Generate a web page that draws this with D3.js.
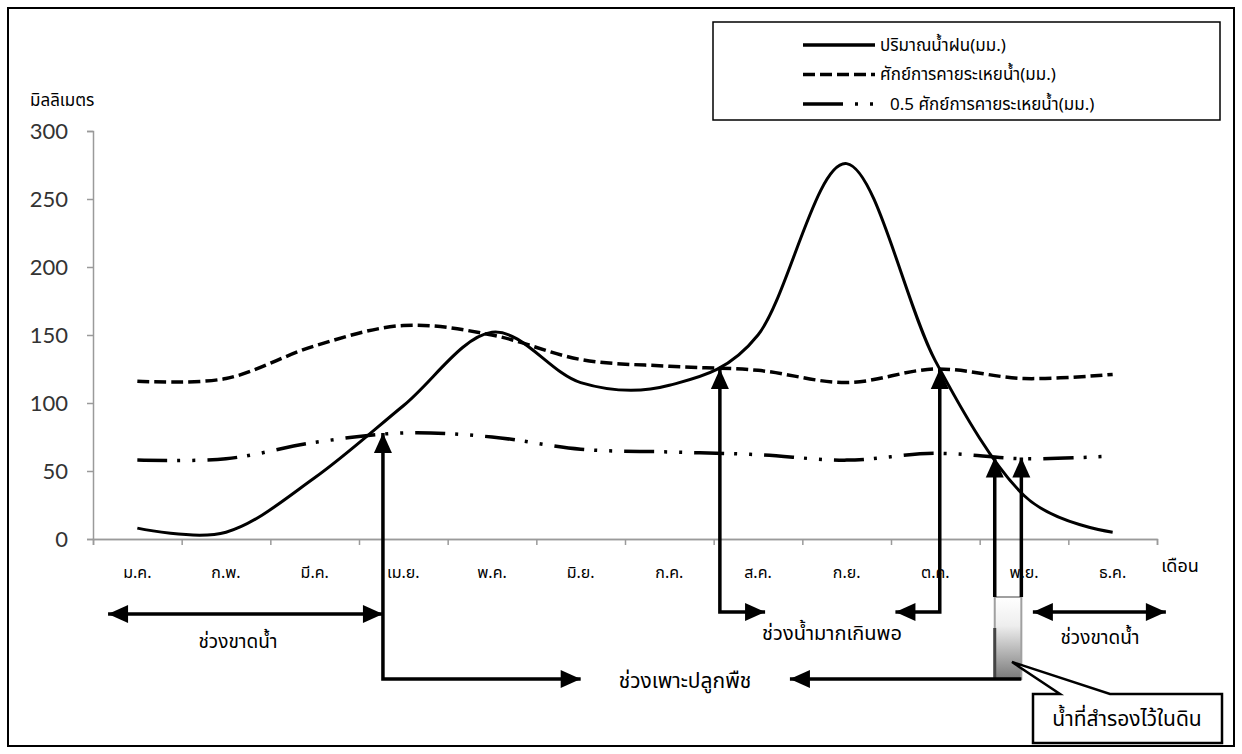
<!DOCTYPE html>
<html>
<head>
<meta charset="utf-8">
<script src="https://cdn.jsdelivr.net/npm/d3@7"></script>
<style>
body { margin: 0; background: #fff; }
text { font-family: "Noto Sans Thai", "Tahoma", "Noto Sans", sans-serif; fill: #000; }
</style>
</head>
<body>
<svg id="chart" width="1242" height="754"></svg>
<script>
// data
var months = ["ม.ค.", "ก.พ.", "มี.ค.", "เม.ย.", "พ.ค.", "มิ.ย.", "ก.ค.", "ส.ค.", "ก.ย.", "ต.ค.", "พ.ย.", "ธ.ค."];
var rain   = [8, 5, 45, 98, 152, 115, 113, 150, 276, 131, 32, 5];
var et     = [116, 118, 142, 157, 150, 132, 127, 124, 115, 125, 118, 121];
var halfEt = [58, 59, 71, 78, 75, 66, 64, 62, 58, 63, 59, 61];
var yTicks = [0, 50, 100, 150, 200, 250, 300];
var seriesNames = ["ปริมาณน้ำฝน(มม.)", "ศักย์การคายระเหยน้ำ(มม.)", "0.5 ศักย์การคายระเหยน้ำ(มม.)"];

var svg = d3.select("#chart");
var plotLeft = 93, plotRight = 1157, plotTop = 131, plotBottom = 539;

var x = d3.scaleBand().domain(months).range([plotLeft, plotRight]);
var y = d3.scaleLinear().domain([0, 300]).range([plotBottom, plotTop]);
// month position (0..12) used to place the hand drawn arrows
var xm = d3.scaleLinear().domain([0, 12]).range([plotLeft, plotRight]);

// gradient for the soil water box
var grad = svg.append("defs").append("linearGradient")
  .attr("id", "soil").attr("x1", 0).attr("y1", 0).attr("x2", 0).attr("y2", 1);
grad.append("stop").attr("offset", "0%").attr("stop-color", "#ffffff");
grad.append("stop").attr("offset", "35%").attr("stop-color", "#eeeeee");
grad.append("stop").attr("offset", "100%").attr("stop-color", "#7a7a7a");

// outer frame
svg.append("rect")
  .attr("x", 8).attr("y", 8).attr("width", 1226).attr("height", 738)
  .attr("fill", "none").attr("stroke", "#000").attr("stroke-width", 2);

//Y AXIS
var gy = svg.append("g")
  .attr("transform", "translate(" + plotLeft + ",0)")
  .call(d3.axisLeft(y).tickValues(yTicks).tickSize(6).tickPadding(19));
gy.selectAll("text").style("font-family", "Lato, 'Open Sans', sans-serif")
  .style("font-size", "22px").style("fill", "#333");

//X AXIS: month labels + tick marks on the band edges
var gx = svg.append("g")
  .attr("transform", "translate(0," + plotBottom + ")")
  .call(d3.axisBottom(x).tickSize(0).tickPadding(28));
gx.selectAll("text").style("font-size", "16px");
svg.append("g")
  .attr("transform", "translate(0," + plotBottom + ")")
  .call(d3.axisBottom(xm).tickValues(d3.range(13)).tickFormat("").tickSize(6));

svg.selectAll(".domain, .tick line").attr("stroke", "#9a9a9a").attr("stroke-width", 1.5);

svg.append("text").attr("x", 30).attr("y", 106).style("font-size", "17px").text("มิลลิเมตร");
svg.append("text").attr("x", 1180).attr("y", 572).attr("text-anchor", "middle")
  .style("font-size", "18px").text("เดือน");

//LINES
var line = d3.line()
  .x(function(d, i) { return x(months[i]) + x.bandwidth() / 2; })
  .y(function(d) { return y(d); })
  .curve(d3.curveCardinal.tension(0));

var styles = [
  { data: rain, dash: null, w: 3 },
  { data: et, dash: "12,5", w: 3.5 },
  { data: halfEt, dash: "30,10,3,12,3,12", w: 3.5 }
];
styles.forEach(function(s) {
  svg.append("path")
    .datum(s.data)
    .attr("fill", "none")
    .attr("stroke", "#000")
    .attr("stroke-width", s.w)
    .attr("stroke-dasharray", s.dash)
    .attr("d", line);
});

//LEGEND
svg.append("rect")
  .attr("x", 713).attr("y", 22).attr("width", 507).attr("height", 98)
  .attr("fill", "#fff").attr("stroke", "#000").attr("stroke-width", 1.5);
var legDash = [null, "12,5", "40,12,3,12,3,100"];
seriesNames.forEach(function(n, i) {
  var ly = 45 + i * 29.5;
  svg.append("line")
    .attr("x1", 803).attr("x2", i == 2 ? 882 : 875).attr("y1", ly).attr("y2", ly)
    .attr("stroke", "#000").attr("stroke-width", 3.5)
    .attr("stroke-dasharray", legDash[i]);
  svg.append("text").attr("x", i == 2 ? 890 : 880).attr("y", ly).attr("dy", "0.35em")
    .style("font-size", "17px").text(n);
});

//ARROWS
function head(x1, y1, x2, y2) {
  var a = Math.atan2(y2 - y1, x2 - x1), L = 20, W = 9;
  var bx = x2 - L * Math.cos(a), by = y2 - L * Math.sin(a);
  var px = -Math.sin(a) * W, py = Math.cos(a) * W;
  svg.append("path")
    .attr("d", "M" + x2 + "," + y2 + "L" + (bx + px) + "," + (by + py) + "L" + (bx - px) + "," + (by - py) + "Z")
    .attr("fill", "#000");
}
function poly(pts, startHead, endHead) {
  svg.append("path")
    .attr("d", d3.line()(pts))
    .attr("fill", "none").attr("stroke", "#000").attr("stroke-width", 3.5);
  var n = pts.length;
  if (endHead) head(pts[n - 2][0], pts[n - 2][1], pts[n - 1][0], pts[n - 1][1]);
  if (startHead) head(pts[1][0], pts[1][1], pts[0][0], pts[0][1]);
}
function label(t, cx, cy, size) {
  svg.append("text").attr("x", cx).attr("y", cy).attr("dy", "0.35em")
    .attr("text-anchor", "middle").style("font-size", (size || 19) + "px").text(t);
}

var row1 = plotBottom + 75, row2 = plotBottom + 140;

// soil water box
svg.append("rect")
  .attr("x", xm(10.17)).attr("y", plotBottom + 58)
  .attr("width", xm(10.47) - xm(10.17)).attr("height", row2 - plotBottom - 58)
  .attr("fill", "url(#soil)").attr("stroke", "#a0a0a0").attr("stroke-width", 2);
svg.append("line")
  .attr("x1", xm(10.17)).attr("x2", xm(10.17)).attr("y1", plotBottom + 89).attr("y2", row2)
  .attr("stroke", "#444").attr("stroke-width", 3);

// dry season (left) and planting season
poly([[xm(0.17), row1], [xm(3.27), row1]], true, true);
poly([[xm(5.5), row2], [xm(3.27), row2], [xm(3.27), y(78)]], true, true);
label("ช่วงขาดน้ำ", 238, 641);

// surplus season
poly([[xm(7.58), row1 - 2], [xm(7.07), row1 - 2], [xm(7.07), y(125)]], true, true);
poly([[xm(9.05), row1 - 2], [xm(9.55), row1 - 2], [xm(9.55), y(125)]], true, true);
label("ช่วงน้ำมากเกินพอ", 832, 633, 20);

// end of planting season
poly([[xm(10.17), plotBottom + 58], [xm(10.17), y(60)]], false, true);
poly([[xm(10.47), plotBottom + 58], [xm(10.47), y(60)]], false, true);
poly([[xm(10.47), row2], [xm(7.86), row2]], false, true);
label("ช่วงเพาะปลูกพืช", 685, 681, 21);

// dry season (right)
poly([[xm(10.6), row1 - 2], [xm(12.1), row1 - 2]], true, true);
label("ช่วงขาดน้ำ", 1100, 637);

// callout
svg.append("path")
  .attr("d", "M1033,694L1060,694L1012,662L1110,694L1222,694L1222,743L1033,743Z")
  .attr("fill", "#fff").attr("stroke", "#000").attr("stroke-width", 2.5);
label("น้ำที่สำรองไว้ในดิน", 1127, 719, 21);
</script>
</body>
</html>
